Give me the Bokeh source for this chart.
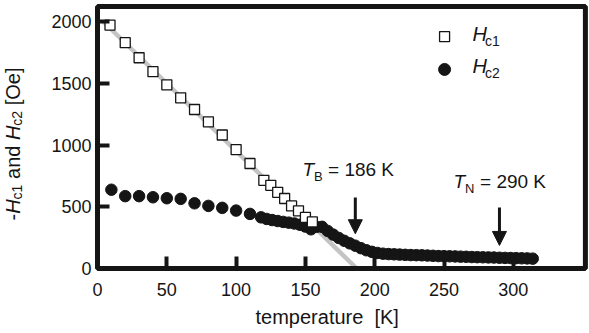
from bokeh.plotting import figure
from bokeh.models import Label, Arrow, NormalHead, FixedTicker, Range1d, BoxAnnotation
from bokeh.embed import file_html
from bokeh.resources import INLINE
import math

# ---------------- data ----------------
hc1_T = [9, 20, 30, 40, 50, 60, 70, 80, 90, 100, 110, 120, 125, 130, 135, 140, 145, 150, 155]
hc1_H = [1975, 1832, 1710, 1597, 1490, 1385, 1290, 1190, 1083, 965, 852, 715, 675, 618, 568,
         508, 468, 414, 378]

hc2_T = [10, 20, 30, 40, 50, 60, 70, 80, 90, 100, 110,
         118, 122, 126, 130, 134, 138, 142, 146, 150, 154, 158, 162, 166, 170, 174, 178,
         182, 186, 190, 194, 198, 202, 206, 210, 214, 218, 222, 226, 230, 234, 238, 242,
         246, 250, 254, 258, 262, 266, 270, 274, 278, 282, 286, 290, 294, 298, 302, 306,
         310, 314]
hc2_H = [639, 587, 587, 578, 570, 565, 529, 508, 492, 470, 443,
         415, 402, 393, 385, 378, 372, 365, 355, 340, 318, 338, 338, 305, 275, 248, 225,
         204, 185, 165, 148, 135, 126, 120, 117, 115, 113, 111, 109, 108, 107, 105, 103,
         101, 100, 99, 98, 96, 95, 93, 92, 91, 90, 89, 87, 86, 85, 84, 83,
         82, 80]

fit_T = [4.5, 187]
fit_H = [2000, 0]

x_ticks = [0, 50, 100, 150, 200, 250, 300]
y_ticks = [0, 500, 1000, 1500, 2000]
x_box = [0, 352]
y_box = [0, 2126]

T_B = 186
T_N = 290
TB_arrow_H = [576, 282]
TN_arrow_H = [495, 187]

INK = "#151515"
FONT = "Liberation Sans"

# ---------------- figure (frame covers the whole canvas) ----------------
p = figure(frame_width=589, frame_height=333, min_border=0,
           x_range=Range1d(-70.0, 354.96), y_range=Range1d(-527.4, 2174.4),
           output_backend="svg", toolbar_location=None)
p.xgrid.visible = False
p.ygrid.visible = False
p.background_fill_color = "white"
p.border_fill_color = "white"
p.outline_line_color = None

for ax in (p.xaxis[0], p.yaxis[0]):
    ax.fixed_location = 0
    ax.axis_line_color = None
    ax.major_tick_in = 12
    ax.major_tick_out = 0
    ax.major_tick_line_width = 4
    ax.major_tick_line_color = INK
    ax.minor_tick_line_color = None
    ax.major_label_text_font = FONT
    ax.major_label_text_font_size = "18px"
    ax.major_label_text_color = INK
p.xaxis[0].ticker = FixedTicker(ticks=x_ticks)
p.yaxis[0].ticker = FixedTicker(ticks=y_ticks)
p.xaxis[0].major_label_standoff = 15
p.yaxis[0].major_label_standoff = 6

# fit line, circles, squares
p.line(fit_T, fit_H, line_color="#c4c4c4", line_width=4.5)
p.scatter(hc2_T, hc2_H, marker="circle", size=11.5, fill_color=INK, line_color=INK)
p.scatter(hc1_T, hc1_H, marker="square", size=10, fill_color="white", line_color=INK,
          line_width=1.3)

# thick plot box
p.add_layout(BoxAnnotation(left=x_box[0], right=x_box[1], bottom=y_box[0], top=y_box[1],
                           fill_alpha=0, line_color=INK, line_width=5, line_alpha=1))

# arrows
for T, (h0, h1) in ((T_B, TB_arrow_H), (T_N, TN_arrow_H)):
    p.add_layout(Arrow(end=NormalHead(size=14, fill_color=INK, line_color=INK, line_width=1),
                       x_start=T, y_start=h0, x_end=T, y_end=h1,
                       line_width=3, line_color=INK))

# legend keys
p.scatter([250.4], [1882], marker="square", size=10, fill_color="white", line_color=INK,
          line_width=1.3)
p.scatter([250.4], [1615], marker="circle", size=12, fill_color=INK, line_color=INK)

CORR = 9  # baseline correction (px)


def txt(text, dx, dy, size=20, italic=False, angle=0.0):
    if angle:
        dx -= CORR
    else:
        dy += CORR
    p.add_layout(Label(x=0, y=0, x_offset=dx, y_offset=dy, text=text,
                       text_font=FONT, text_font_size=f"{size}px",
                       text_font_style="italic" if italic else "normal",
                       text_color=INK, angle=angle, text_align="left",
                       text_baseline="alphabetic"))


# y axis title (rotated): -Hc1 and Hc2 [Oe]
a = math.pi / 2
bx = -76
y0 = 48
txt("-", bx, y0, angle=a)
txt("H", bx, y0 + 6.7, italic=True, angle=a)
txt("c1", bx + 4, y0 + 21.1, size=14, angle=a)
txt("and", bx, y0 + 35.9 + 5.6, angle=a)
txt("H", bx, y0 + 80.4, italic=True, angle=a)
txt("c2", bx + 4, y0 + 94.8, size=14, angle=a)
txt("[Oe]", bx, y0 + 109.6 + 5.6, angle=a)

# x axis title
txt("temperature", 158, -58)
txt("[K]", 158 + 107.8 + 11.1, -58)

# T_B label
txt("T", 205, 90, size=19, italic=True)
txt("B", 216.6, 83, size=13)
txt("= 186 K", 230.5, 90, size=19)

# T_N label
txt("T", 356, 78, size=19, italic=True)
txt("N", 367.6, 71, size=13)
txt("= 290 K", 382.5, 78, size=19)

# legend text
txt("H", 375, 225, italic=True)
txt("c1", 387.5, 218, size=14)
txt("H", 375, 193, italic=True)
txt("c2", 387.5, 186, size=14)

open("out.html", "w").write(file_html(p, INLINE))
